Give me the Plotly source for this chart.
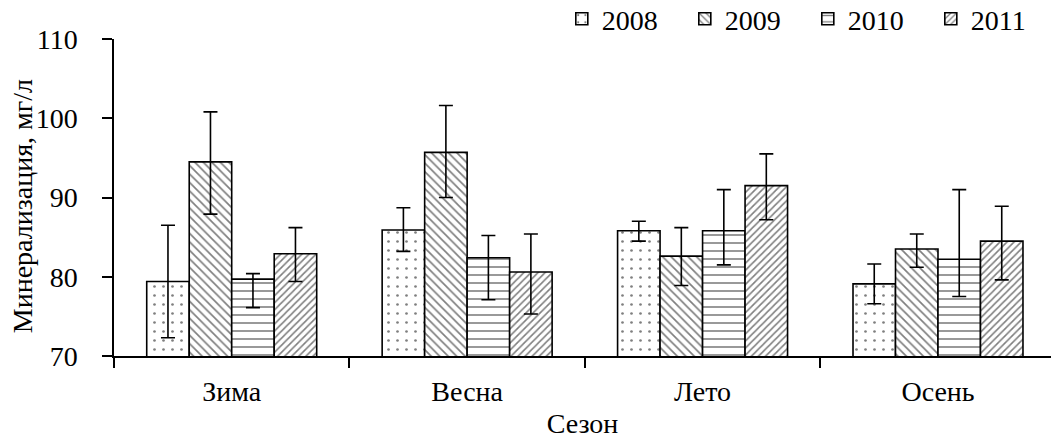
import plotly.graph_objects as go

# Seasonal mineralization (mg/L) by year, mean with error margins
seasons = ["Зима", "Весна", "Лето", "Осень"]
years = ["2008", "2009", "2010", "2011"]

values = {
    "2008": [79.4, 85.9, 85.8, 79.1],
    "2009": [94.5, 95.7, 82.6, 83.5],
    "2010": [79.7, 82.4, 85.8, 82.2],
    "2011": [82.9, 80.6, 91.5, 84.5],
}
err_plus = {
    "2008": [7.1, 2.8, 1.2, 2.5],
    "2009": [6.3, 5.9, 3.6, 1.9],
    "2010": [0.7, 2.8, 5.2, 8.8],
    "2011": [3.3, 4.8, 4.0, 4.4],
}
err_minus = {
    "2008": [7.1, 2.7, 1.3, 2.5],
    "2009": [6.6, 5.7, 3.7, 2.3],
    "2010": [3.6, 5.3, 4.3, 4.7],
    "2011": [3.5, 5.3, 4.3, 4.9],
}

patterns = {
    "2008": dict(shape=".", size=9, solidity=0.07),
    "2009": dict(shape="\\", size=6, solidity=0.28),
    "2010": dict(shape="-", size=8, solidity=0.2),
    "2011": dict(shape="/", size=5, solidity=0.32),
}

FONT = "Liberation Serif, Times New Roman, serif"

fig = go.Figure()
for y in years:
    fig.add_trace(go.Bar(
        name=y,
        x=seasons,
        y=values[y],
        base=0,
        marker=dict(
            color="white",
            line=dict(color="black", width=1.6),
            pattern=dict(fgcolor="black", bgcolor="white", fillmode="overlay",
                         **patterns[y]),
        ),
        error_y=dict(type="data", symmetric=False,
                     array=err_plus[y], arrayminus=err_minus[y],
                     color="black", thickness=1.6, width=7),
    ))

# vertical axis title placed as a rotated annotation close to the tick labels
fig.add_annotation(text="Минерализация, мг/л", textangle=-90,
                   xref="paper", yref="paper", x=-0.098, y=0.473,
                   xanchor="center", yanchor="middle", showarrow=False,
                   font=dict(family=FONT, size=28, color="black"))

fig.update_layout(
    width=1051, height=439,
    margin=dict(l=114, r=0, t=39, b=83, autoexpand=False),
    paper_bgcolor="white", plot_bgcolor="white",
    barmode="group", bargap=0.278, bargroupgap=0,
    font=dict(family=FONT, size=28, color="black"),
    legend=dict(orientation="h", x=1.003, xanchor="right", y=1.142, yanchor="top",
                font=dict(family=FONT, size=28), entrywidth=78,
                entrywidthmode="pixels", bgcolor="rgba(0,0,0,0)"),
    xaxis=dict(range=[-0.5, 3.48], showline=True, linecolor="black", linewidth=1.5,
               ticks="outside", tickson="boundaries", ticklen=10, tickwidth=1.5,
               tickcolor="black", showgrid=False, zeroline=False,
               tickfont=dict(family=FONT, size=28),
               title=dict(text="Сезон", standoff=11,
                          font=dict(family=FONT, size=28)),
               ticklabelstandoff=10),
    yaxis=dict(range=[70, 110], dtick=10, showline=True, linecolor="black",
               linewidth=1.5, ticks="outside", ticklen=10, tickwidth=1.5,
               tickcolor="black", showgrid=False, zeroline=False,
               tickfont=dict(family=FONT, size=28),
               ticklabelstandoff=19),
)

fig.write_html("out.html")
